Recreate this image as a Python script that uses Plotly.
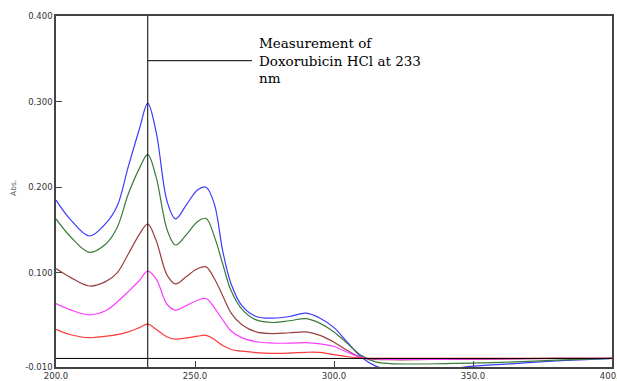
import plotly.graph_objects as go

wavelength = [200, 205, 212, 218, 222, 226, 230, 233, 236, 240, 243, 247, 251, 254,
              257, 260, 263, 267, 272, 278, 284, 290, 295, 300, 305, 310, 315, 320,
              330, 340, 350, 365, 380, 400]

abs_blue = [0.185, 0.163, 0.143, 0.158, 0.178, 0.224, 0.268, 0.298, 0.265, 0.183, 0.163,
            0.180, 0.197, 0.200, 0.180, 0.125, 0.087, 0.061, 0.049, 0.047, 0.049, 0.053,
            0.047, 0.036, 0.018, 0.001, -0.009, -0.013, -0.015, -0.013, -0.009, -0.006,
            -0.003, 0.000]
abs_green = [0.163, 0.143, 0.124, 0.134, 0.153, 0.192, 0.222, 0.238, 0.212, 0.150, 0.1325,
             0.145, 0.160, 0.1635, 0.142, 0.110, 0.079, 0.057, 0.045, 0.042, 0.044, 0.0465,
             0.041, 0.031, 0.017, 0.003, -0.004, -0.006, -0.0065, -0.006, -0.0055, -0.004,
             -0.002, 0.000]
abs_brown = [0.105, 0.095, 0.0846, 0.090, 0.100, 0.122, 0.145, 0.157, 0.138, 0.097, 0.087,
             0.096, 0.105, 0.107, 0.093, 0.073, 0.053, 0.039, 0.031, 0.029, 0.030, 0.031,
             0.027, 0.019, 0.009, 0.001, -0.001, -0.0015, -0.0015, -0.001, -0.001, -0.0005,
             0.000, 0.000]
abs_magenta = [0.064, 0.057, 0.051, 0.056, 0.066, 0.078, 0.091, 0.102, 0.093, 0.063, 0.0565,
               0.062, 0.068, 0.070, 0.059, 0.045, 0.032, 0.024, 0.0195, 0.018, 0.0178, 0.0184,
               0.017, 0.014, 0.007, 0.001, -0.0005, -0.001, -0.001, -0.001, -0.0008, -0.0005,
               0.000, 0.000]
abs_red = [0.034, 0.028, 0.0242, 0.026, 0.0278, 0.031, 0.036, 0.040, 0.034, 0.025, 0.0225,
           0.024, 0.026, 0.027, 0.022, 0.015, 0.0105, 0.0085, 0.0068, 0.006, 0.0063, 0.0072,
           0.007, 0.0045, 0.002, 0.0005, 0.0, 0.0, 0.0, 0.0, 0.0, 0.0, 0.0, 0.0]

series = [
    ("blue", abs_blue, "#3c3cff"),
    ("green", abs_green, "#3a7a3a"),
    ("brown", abs_brown, "#9a4040"),
    ("magenta", abs_magenta, "#ff3cff"),
    ("red", abs_red, "#ff3a3a"),
]

y_tickvals = [-0.01, 0.1, 0.2, 0.3, 0.4]
y_ticktext = ["-0.010", "0.100", "0.200", "0.300", "0.400"]
x_tickvals = [200, 250, 300, 350, 400]
x_ticktext = ["200.0", "250.0", "300.0", "350.0", "400.0"]

marker_nm = 233
label_text = "Measurement of<br>Doxorubicin HCl at 233<br>nm"

fig = go.Figure()
for name, vals, col in series:
    fig.add_trace(go.Scatter(x=wavelength, y=vals, mode="lines", name=name,
                             line=dict(color=col, width=1.2, shape="spline", smoothing=1.0),
                             showlegend=False, hoverinfo="skip"))

# zero line
fig.add_shape(type="line", xref="paper", yref="y", x0=0, x1=1, y0=0, y1=0,
              line=dict(color="black", width=1))
# vertical marker line
fig.add_shape(type="line", xref="x", yref="y", x0=marker_nm, x1=marker_nm, y0=-0.01, y1=0.4,
              line=dict(color="black", width=1))
# leader line
fig.add_shape(type="line", xref="x", yref="y", x0=marker_nm, x1=270.5, y0=0.3478, y1=0.3478,
              line=dict(color="black", width=1))

fig.add_annotation(x=272.6, y=0.3486, xref="x", yref="y", text=label_text, showarrow=False,
                   xanchor="left", yanchor="middle", align="left", borderpad=0,
                   font=dict(family="DejaVu Serif", size=13.5, color="black"))

fig.add_annotation(x=0, y=0.51, xref="paper", yref="paper", xshift=-42, text="Abs.",
                   showarrow=False, textangle=-90, xanchor="center", yanchor="middle",
                   font=dict(family="DejaVu Sans", size=7.5, color="#555"))

axis_common = dict(showgrid=False, zeroline=False, showline=True, mirror=True,
                   linecolor="#444", linewidth=1.5, ticks="inside", ticklen=6,
                   tickcolor="#444", tickwidth=1, ticklabeloverflow="allow",
                   automargin=False,
                   tickfont=dict(family="DejaVu Sans", size=8.5, color="#333"))

fig.update_xaxes(range=[200, 400], tickvals=x_tickvals, ticktext=x_ticktext, **axis_common)
fig.update_yaxes(range=[-0.01, 0.4], tickvals=y_tickvals, ticktext=y_ticktext, **axis_common)

fig.update_layout(width=617, height=381, margin=dict(l=56, r=5, t=16, b=14, autoexpand=False),
                  plot_bgcolor="white", paper_bgcolor="white")

fig.write_html("out.html", config={"displayModeBar": False},
               post_script="document.body.style.margin='0';document.body.style.overflow='hidden';")
